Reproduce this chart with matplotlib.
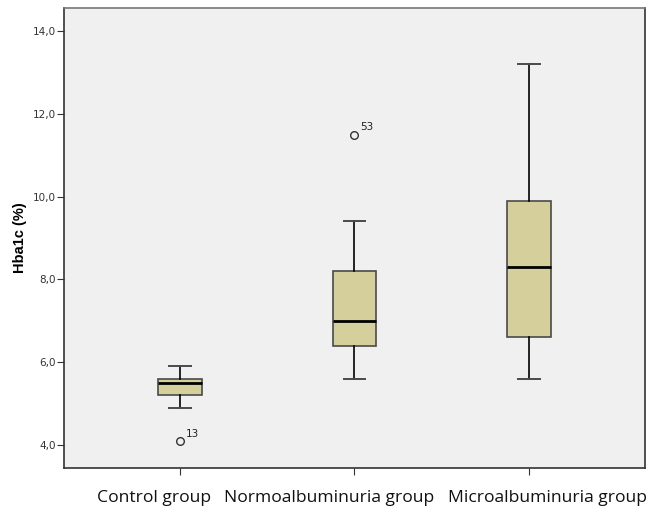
import matplotlib.pyplot as plt
from matplotlib.ticker import FuncFormatter

# HbA1c summary per group (SPSS-style boxplot)
groups = ["Control group", "Normoalbuminuria group", "Microalbuminuria group"]
whisker_low = [4.9, 5.6, 5.6]
q1 = [5.2, 6.4, 6.6]
median = [5.5, 7.0, 8.3]
q3 = [5.6, 8.2, 9.9]
whisker_high = [5.9, 9.4, 13.2]
outliers = [[4.1], [11.5], []]
outlier_ids = [["13"], ["53"], []]
yticks = [4.0, 6.0, 8.0, 10.0, 12.0, 14.0]

# horizontal nudge (points) of the category labels under the axis
label_shift = [-19, -18, 13]

box_fill = "#d4cf9b"
edge = "#4a4a4a"

fig = plt.figure(figsize=(6.49, 5.13), dpi=100)
ax = fig.add_axes([0.0986, 0.0877, 0.8952, 0.8967])
ax.set_facecolor("#f0f0f0")

pos = list(range(1, len(groups) + 1))
stats = []
for i in range(len(groups)):
    stats.append(dict(whislo=whisker_low[i], q1=q1[i], med=median[i], q3=q3[i],
                      whishi=whisker_high[i], fliers=outliers[i]))

ax.bxp(stats, positions=pos, widths=0.25, patch_artist=True, showfliers=True,
       boxprops=dict(facecolor=box_fill, edgecolor=edge, linewidth=1.2),
       medianprops=dict(color="black", linewidth=2),
       whiskerprops=dict(color="black", linewidth=1.2),
       capprops=dict(color=edge, linewidth=1.4),
       capwidths=0.125,
       flierprops=dict(marker="o", markersize=5.5, markerfacecolor="none",
                       markeredgecolor="#333333", markeredgewidth=1))

for p, vals, ids in zip(pos, outliers, outlier_ids):
    for v, s in zip(vals, ids):
        ax.annotate(s, (p, v), xytext=(4, 3), textcoords="offset points",
                    fontsize=7.5, color="#222222")

ax.set_xlim(1 - 0.665, 3 + 0.665)
ax.set_ylim(3.44, 14.56)
ax.set_yticks(yticks)
ax.yaxis.set_major_formatter(FuncFormatter(lambda v, _: f"{v:.1f}".replace(".", ",")))
ax.tick_params(axis="y", labelsize=7.5, length=5, width=0.8, colors="#333333",
               labelcolor="#333333", pad=1)
ax.set_xticks(pos)
ax.set_xticklabels([])
ax.tick_params(axis="x", length=5, width=0.8, colors="#333333")

for p, name, dx in zip(pos, groups, label_shift):
    ax.annotate(name, (p, 0), xycoords=("data", "axes fraction"),
                xytext=(dx, -16), textcoords="offset points",
                ha="center", va="top", fontsize=12.6, family="Open Sans",
                color="#111111")

ax.set_ylabel("Hba1c (%)", fontsize=10.5, fontweight="bold", labelpad=4,
              family="Liberation Sans")

for side in ["left", "bottom", "right", "top"]:
    ax.spines[side].set_color("#333333")
    ax.spines[side].set_linewidth(1.2)
ax.spines["top"].set_color("#777777")

fig.savefig("out.png", dpi=100, facecolor="white")
